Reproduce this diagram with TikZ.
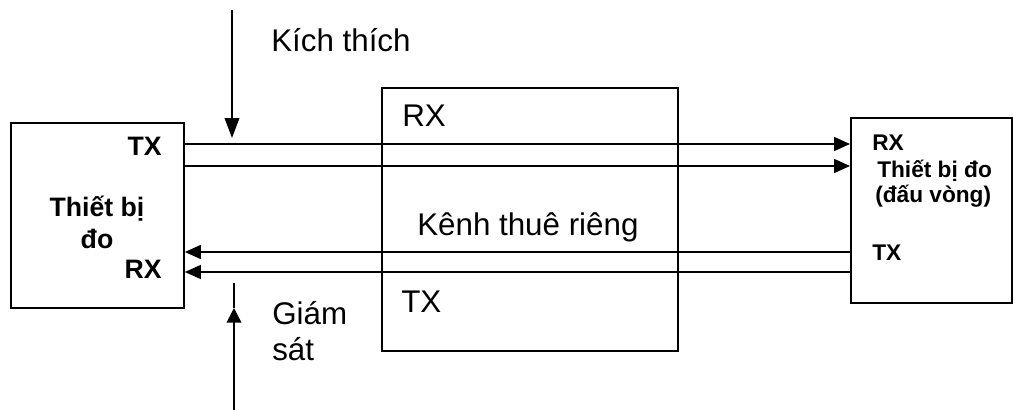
\documentclass[tikz,border=0pt]{standalone}
\usepackage{fontspec}
\setmainfont{Liberation Sans}
\usetikzlibrary{arrows.meta}
\tikzset{
  box/.style={draw, line width=1.4pt, inner sep=0pt, anchor=north west},
  boldbig/.style={font=\bfseries\fontsize{20}{24}\selectfont, inner sep=0pt},
  boldsmall/.style={font=\bfseries\fontsize{17}{20}\selectfont, inner sep=0pt},
  plain/.style={font=\fontsize{23.5}{28}\selectfont, inner sep=0pt},
  sig/.style={line width=1.2pt, -{Triangle[length=12pt,width=10.5pt]}},
}
\begin{document}
\begin{tikzpicture}[x=0.75pt,y=-0.75pt]
  \useasboundingbox (0,0) rectangle (1013,410);
  % the three boxes
  \node[box, minimum width=129.75pt, minimum height=138.75pt] (meter) at (10,122) {};
  \node[box, minimum width=222pt, minimum height=197.25pt] (channel) at (381,87) {};
  \node[box, minimum width=120.75pt, minimum height=138.75pt] (loop) at (850,117) {};
  % texts in the boxes
  \node[boldbig, anchor=base east] (meter_tx) at (162,155) {TX};
  \node[boldbig, anchor=base] (meter_name1) at (97,216) {Thiết bị};
  \node[boldbig, anchor=base] (meter_name2) at (97,248) {đo};
  \node[boldbig, anchor=base east] (meter_rx) at (162,278) {RX};
  \node[plain, anchor=base west] (channel_rx) at (402,126) {RX};
  \node[plain, anchor=base west] (channel_name) at (417,235) {Kênh thuê riêng};
  \node[plain, anchor=base west] (channel_tx) at (401,312) {TX};
  \node[boldsmall, anchor=base west] (loop_rx) at (872,150) {RX};
  \node[boldsmall, anchor=base west] (loop_name1) at (877,177) {Thiết bị đo};
  \node[boldsmall, anchor=base west] (loop_name2) at (875,202) {(đấu vòng)};
  \node[boldsmall, anchor=base west] (loop_tx) at (872,260) {TX};
  % outside labels
  \node[plain, anchor=base west] (stim) at (271,52) {Kích thích};
  \node[plain, anchor=base west] (mon1) at (272,324) {Giám};
  \node[plain, anchor=base west] (mon2) at (272,360) {sát};
  % signal lines
  \draw[sig] (meter.east |- 0,144) -- (loop.west |- 0,144);
  \draw[sig] (meter.east |- 0,166) -- (loop.west |- 0,166);
  \draw[sig] (loop.west |- 0,252) -- (meter.east |- 0,252);
  \draw[sig] (loop.west |- 0,272) -- (meter.east |- 0,272);
  % stimulus and monitor points
  \coordinate (stim_top) at (232,10);
  \coordinate (stim_tip) at (232,138);
  \coordinate (mon_bot) at (234,410);
  \coordinate (mon_tip) at (234,308);
  \coordinate (mon_top) at (234,283);
  \draw[sig, -{Triangle[length=15pt,width=11pt]}] (stim_top) -- (stim_tip);
  \draw[sig, -{Triangle[length=11pt,width=11pt]}] (mon_bot) -- (mon_tip);
  \draw[line width=1.2pt] (mon_tip) -- (mon_top);
\end{tikzpicture}
\end{document}
